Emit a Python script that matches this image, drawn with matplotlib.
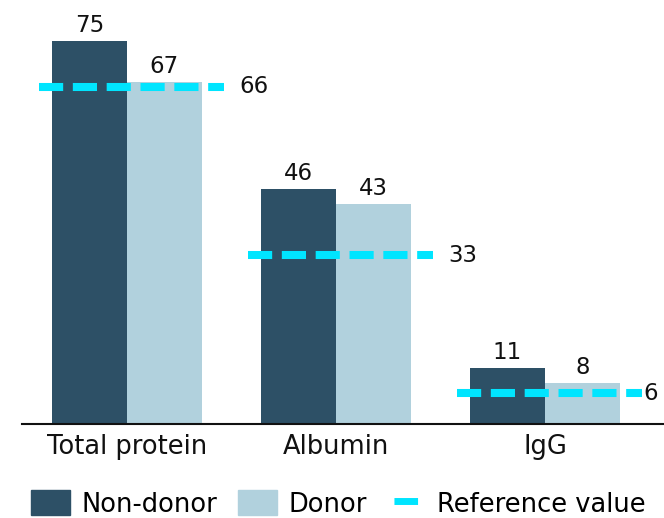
import numpy as np
import matplotlib
matplotlib.use('Agg')
from matplotlib import pyplot as plt
from matplotlib.patches import Patch
from matplotlib.lines import Line2D

categories = ['Total protein', 'Albumin', 'IgG']
non_donor = [75, 46, 11]
donor = [67, 43, 8]
reference = [66, 33, 6]

dark = '#2d5066'
light = '#b1d1dd'
cyan = '#00e5ff'

plt.rcParams['font.family'] = ['DejaVu Sans']

fig = plt.figure(figsize=(6.64, 5.18), dpi=100)
ax = fig.add_axes([22/664, 1 - 424/518, 642/664, 424/518])

x = np.arange(len(categories))
w = 0.359
b1 = ax.bar(x - w/2, non_donor, w, color=dark)
b2 = ax.bar(x + w/2, donor, w, color=light)

## value labels above bars
for bars, vals in [(b1, non_donor), (b2, donor)]:
    for bar, v in zip(bars, vals):
        ax.annotate(str(v), (bar.get_x() + bar.get_width()/2, v),
                    xytext=(0, 3), textcoords='offset points',
                    ha='center', va='bottom', fontsize=16.5, color='#111111')

## reference lines
label_gap = [11, 11, 1]
for xi, r, g in zip(x, reference, label_gap):
    ax.plot([xi - 0.42, xi + 0.465], [r, r], color=cyan, linewidth=5.8,
            dashes=(3.0, 1.2), solid_capstyle='butt')
    ax.annotate(str(r), (xi + 0.465, r), xytext=(g, 0), textcoords='offset points',
                ha='left', va='center', fontsize=16.5, color='#111111')

ax.set_xlim(-0.502, 2.569)
ax.set_ylim(0, 83)
ax.set_xticks(x)
ax.set_xticklabels(categories, fontsize=18.5, color='#111111')
ax.tick_params(axis='x', length=0, pad=7)
ax.set_yticks([])
for s in ['top', 'right', 'left']:
    ax.spines[s].set_visible(False)
ax.spines['bottom'].set_linewidth(1.5)
ax.spines['bottom'].set_color('#111111')

## short dash for the legend: gap, one dash, then off
ref_handle = Line2D([0], [0], color=cyan, linewidth=5,
                    linestyle=(22.4, (3.4, 20)), solid_capstyle='butt')
handles = [Patch(color=dark), Patch(color=light), ref_handle]
fig.legend(handles, ['Non-donor', 'Donor', 'Reference value'], loc='center',
           bbox_to_anchor=(0.51, 0.027), ncol=3, frameon=False, fontsize=18.5,
           handlelength=1.5, handleheight=1.1, handletextpad=0.45,
           columnspacing=0.8, borderpad=0)

plt.savefig('out.png', dpi=100)
